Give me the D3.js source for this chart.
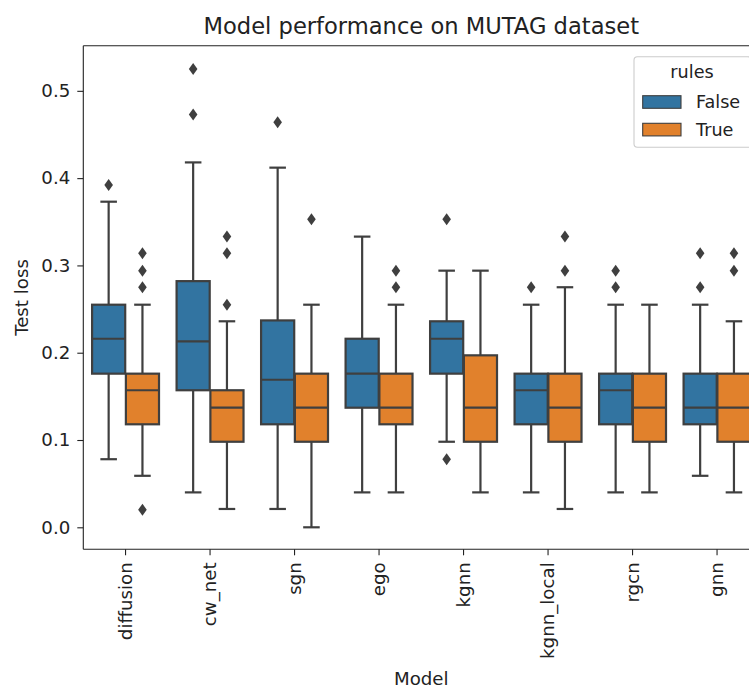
<!DOCTYPE html>
<html>
<head>
<meta charset="utf-8">
<script src="https://cdn.jsdelivr.net/npm/d3@7"></script>
<style>
  body { margin: 0; background: #fff; }
  svg { font-family: "DejaVu Sans", sans-serif; }
</style>
</head>
<body>
<svg width="749" height="688"></svg>
<script>
const svg = d3.select("svg");

// datos
const models = ["diffusion", "cw_net", "sgn", "ego", "kgnn", "kgnn_local", "rgcn", "gnn"];
const hues = ["False", "True"];
const colores = ["#3274a1", "#e1812c"];
const yTicks = [0.0, 0.1, 0.2, 0.3, 0.4, 0.5];

// rules = False
const falseLow  = [0.078, 0.040, 0.021, 0.040, 0.098, 0.040, 0.040, 0.059];
const falseQ1   = [0.176, 0.157, 0.118, 0.137, 0.176, 0.118, 0.118, 0.118];
const falseMed  = [0.216, 0.213, 0.169, 0.176, 0.216, 0.157, 0.157, 0.137];
const falseQ3   = [0.255, 0.282, 0.237, 0.216, 0.236, 0.176, 0.176, 0.176];
const falseHigh = [0.373, 0.418, 0.412, 0.333, 0.294, 0.255, 0.255, 0.255];
const falseOut  = [[0.392], [0.473, 0.525], [0.464], [], [0.353, 0.078], [0.275], [0.275, 0.294], [0.275, 0.314]];

// rules = True
const trueLow  = [0.059, 0.021, 0.000, 0.040, 0.040, 0.021, 0.040, 0.040];
const trueQ1   = [0.118, 0.098, 0.098, 0.118, 0.098, 0.098, 0.098, 0.098];
const trueMed  = [0.157, 0.137, 0.137, 0.137, 0.137, 0.137, 0.137, 0.137];
const trueQ3   = [0.176, 0.157, 0.176, 0.176, 0.197, 0.176, 0.176, 0.176];
const trueHigh = [0.255, 0.236, 0.255, 0.255, 0.294, 0.275, 0.255, 0.236];
const trueOut  = [[0.020, 0.275, 0.294, 0.314], [0.255, 0.314, 0.333], [0.353], [0.275, 0.294], [], [0.294, 0.333], [], [0.294, 0.314]];

const series = [
  { low: falseLow, q1: falseQ1, med: falseMed, q3: falseQ3, high: falseHigh, out: falseOut },
  { low: trueLow, q1: trueQ1, med: trueMed, q3: trueQ3, high: trueHigh, out: trueOut }
];

// area de la grafica (el lado derecho queda fuera de la imagen)
const izq = 83.3, der = 759.3, arriba = 45.7, abajo = 549.3;
const gris = "#3f3f3f";
const tinta = "#222";
const lw = 2.2;
const fuente = "18.2px";

const xScale = d3.scaleBand().domain(models).range([izq, der]).padding(0);
const yScale = d3.scaleLinear().domain([-0.0252, 0.5517]).range([abajo, arriba]);
const banda = xScale.bandwidth();
const anchoCaja = banda * 0.4 * 0.98;

// cajas
series.forEach((s, h) => {
  const g = svg.append("g");
  models.forEach((m, i) => {
    const cx = xScale(m) + banda * (0.3 + 0.4 * h);
    // bigotes
    g.append("line").attr("x1", cx).attr("x2", cx)
      .attr("y1", yScale(s.q1[i])).attr("y2", yScale(s.low[i]))
      .attr("stroke", gris).attr("stroke-width", lw);
    g.append("line").attr("x1", cx).attr("x2", cx)
      .attr("y1", yScale(s.q3[i])).attr("y2", yScale(s.high[i]))
      .attr("stroke", gris).attr("stroke-width", lw);
    // caja
    g.append("rect")
      .attr("x", cx - anchoCaja / 2)
      .attr("y", yScale(s.q3[i]))
      .attr("width", anchoCaja)
      .attr("height", yScale(s.q1[i]) - yScale(s.q3[i]))
      .attr("fill", colores[h])
      .attr("stroke", gris).attr("stroke-width", lw);
    // mediana
    g.append("line").attr("x1", cx - anchoCaja / 2).attr("x2", cx + anchoCaja / 2)
      .attr("y1", yScale(s.med[i])).attr("y2", yScale(s.med[i]))
      .attr("stroke", gris).attr("stroke-width", lw);
    // topes
    [s.low[i], s.high[i]].forEach(v => {
      g.append("line").attr("x1", cx - anchoCaja / 4).attr("x2", cx + anchoCaja / 4)
        .attr("y1", yScale(v)).attr("y2", yScale(v))
        .attr("stroke", gris).attr("stroke-width", lw);
    });
    // atipicos
    s.out[i].forEach(v => {
      const y = yScale(v);
      g.append("path")
        .attr("d", `M${cx},${y - 6}L${cx + 4.3},${y}L${cx},${y + 6}L${cx - 4.3},${y}Z`)
        .attr("fill", gris);
    });
  });
});

// ejes
const ejeY = svg.append("g").attr("transform", `translate(${izq},0)`)
  .call(d3.axisLeft(yScale).tickValues(yTicks).tickFormat(d3.format(".1f")).tickSize(6).tickPadding(7));
ejeY.selectAll("text").attr("font-size", fuente).attr("fill", tinta).attr("font-family", "DejaVu Sans");
ejeY.selectAll("line").attr("stroke", tinta).attr("stroke-width", 1.1);
ejeY.select(".domain").remove();

const ejeX = svg.append("g").attr("transform", `translate(0,${abajo})`)
  .call(d3.axisBottom(xScale).tickSize(6).tickPadding(6));
ejeX.selectAll("text")
  .attr("font-size", fuente).attr("fill", tinta).attr("font-family", "DejaVu Sans")
  .attr("transform", "rotate(-90)")
  .attr("text-anchor", "end")
  .attr("x", -13).attr("y", 0).attr("dy", "0.35em");
ejeX.selectAll("line").attr("stroke", tinta).attr("stroke-width", 1.1);
ejeX.select(".domain").remove();

// bordes
svg.append("line").attr("x1", izq).attr("x2", izq).attr("y1", arriba).attr("y2", abajo)
  .attr("stroke", tinta).attr("stroke-width", 1.1);
svg.append("line").attr("x1", izq).attr("x2", der).attr("y1", abajo).attr("y2", abajo)
  .attr("stroke", tinta).attr("stroke-width", 1.1);
svg.append("line").attr("x1", izq).attr("x2", der).attr("y1", arriba).attr("y2", arriba)
  .attr("stroke", tinta).attr("stroke-width", 1.1);

// titulos
svg.append("text").attr("x", (izq + der) / 2).attr("y", 34)
  .attr("text-anchor", "middle").attr("font-size", "22.6px").attr("fill", tinta)
  .text("Model performance on MUTAG dataset");
svg.append("text").attr("x", (izq + der) / 2).attr("y", 685)
  .attr("text-anchor", "middle").attr("font-size", fuente).attr("fill", tinta)
  .text("Model");
svg.append("text")
  .attr("transform", `translate(28,${(arriba + abajo) / 2}) rotate(-90)`)
  .attr("text-anchor", "middle").attr("font-size", fuente).attr("fill", tinta)
  .text("Test loss");

// leyenda
const leyenda = svg.append("g");
leyenda.append("rect").attr("x", 634).attr("y", 56.7).attr("width", 117).attr("height", 90.6)
  .attr("rx", 3.5).attr("fill", "white").attr("fill-opacity", 0.8)
  .attr("stroke", "#cccccc").attr("stroke-width", 1.1);
leyenda.append("text").attr("x", 692).attr("y", 77.5).attr("text-anchor", "middle")
  .attr("font-size", "17.6px").attr("fill", tinta).text("rules");
hues.forEach((h, i) => {
  const y0 = 95.7 + i * 27.6;
  leyenda.append("rect").attr("x", 642.7).attr("y", y0).attr("width", 38.3).attr("height", 12.6)
    .attr("fill", colores[i]).attr("stroke", gris).attr("stroke-width", 1.1);
  leyenda.append("text").attr("x", 696).attr("y", y0 + 12.2)
    .attr("font-size", "17.6px").attr("fill", tinta).text(h);
});
</script>
</body>
</html>
